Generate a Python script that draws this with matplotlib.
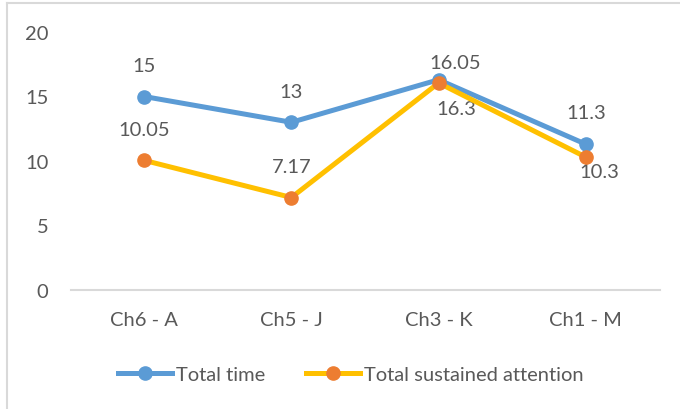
import matplotlib

matplotlib.use("Agg")
import matplotlib.pyplot as plt
from matplotlib.lines import Line2D

plt.rcParams["font.family"] = ["Lato", "DejaVu Sans"]

categories = ["Ch6 - A", "Ch5 - J", "Ch3 - K", "Ch1 - M"]
total_time = [15, 13, 16.3, 11.3]
sustained_attention = [10.05, 7.17, 16.05, 10.3]
y_ticks = [0, 5, 10, 15, 20]

TEXT = "#595959"
GRID = "#D9D9D9"
BLUE = "#5B9BD5"
ORANGE = "#ED7D31"
YELLOW = "#FFC000"
FS = 14.5

# label offsets in points (dx, dy) for each point of each series
time_offsets = [(0, 22.5), (0, 22.5), (13, -21), (0, 23)]
attention_offsets = [(0, 22.5), (0, 22.5), (12, 15), (10, -10)]

fig = plt.figure(figsize=(6.8, 4.1), dpi=100)
ax = fig.add_axes([70.5 / 680, 1 - 291 / 410, 589 / 680, 258 / 410])

x = range(len(categories))
ax.plot(x, total_time, color=BLUE, lw=3.6, marker="o", ms=9.5,
        mfc=BLUE, mec=BLUE, label="Total time", zorder=3)
ax.plot(x, sustained_attention, color=YELLOW, lw=3.6, marker="o", ms=9.5,
        mfc=ORANGE, mec=ORANGE, label="Total sustained attention", zorder=4)

for xi, v, off in zip(x, total_time, time_offsets):
    ax.annotate(f"{v:g}", (xi, v), xytext=off, textcoords="offset points",
                ha="center", va="center", fontsize=FS, color=TEXT)
for xi, v, off in zip(x, sustained_attention, attention_offsets):
    ax.annotate(f"{v:g}", (xi, v), xytext=off, textcoords="offset points",
                ha="center", va="center", fontsize=FS, color=TEXT)

ax.set_xlim(-0.5, len(categories) - 0.5)
ax.set_ylim(0, 20)
ax.set_yticks(y_ticks)
ax.set_xticks(list(x))
ax.set_xticklabels(categories)
ax.tick_params(axis="y", length=0, pad=16, labelsize=FS, labelcolor=TEXT)
ax.tick_params(axis="x", length=0, pad=15, labelsize=FS, labelcolor=TEXT)

for side in ("top", "right", "left"):
    ax.spines[side].set_visible(False)
ax.spines["bottom"].set_color(GRID)
ax.spines["bottom"].set_linewidth(1.5)

fig.legend(loc="center", bbox_to_anchor=(351 / 680, 1 - 375 / 410), ncol=2,
           frameon=False, fontsize=FS, labelcolor=TEXT, handlelength=2.7,
           handletextpad=0.2, columnspacing=2.0)

# chart area border (left and top edges)
fig.add_artist(Line2D([7 / 680, 7 / 680], [0, 1 - 4 / 410], color=GRID, lw=1.5))
fig.add_artist(Line2D([7 / 680, 1], [1 - 4 / 410, 1 - 4 / 410], color=GRID, lw=1.5))

fig.savefig("out.png", dpi=100)
